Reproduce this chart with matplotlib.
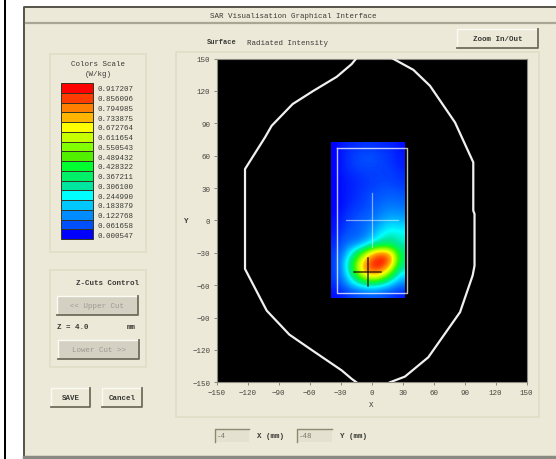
import numpy as np
import matplotlib
matplotlib.use("Agg")
import matplotlib.pyplot as plt
from matplotlib.colors import LinearSegmentedColormap
from matplotlib.patches import Rectangle

scale_values = ["0.917207", "0.856096", "0.794985", "0.733875", "0.672764", "0.611654",
                "0.550543", "0.489432", "0.428322", "0.367211", "0.306100", "0.244990",
                "0.183879", "0.122768", "0.061658", "0.000547"]
scale_colors = ["#ff0000", "#ff3c00", "#ff8000", "#ffb400", "#ffff00", "#c8ff00",
                "#82ff00", "#50f000", "#00ff30", "#00f068", "#00e6a0", "#00ffff",
                "#00c8ff", "#008cff", "#0050ff", "#0000ff"]
ticks = [-150, -120, -90, -60, -30, 0, 30, 60, 90, 120, 150]

field_x = [-38, -28, -18, -8, 2, 12, 22, 32]
field_y = [72, 64, 56, 48, 40, 32, 24, 16, 8, 0, -8, -16, -24, -32, -40, -48, -56, -64, -72]
field = [
    [.00, .03, .03, .04, .04, .03, .03, .01],
    [.00, .03, .05, .06, .06, .05, .04, .02],
    [.00, .03, .05, .06, .06, .05, .04, .02],
    [.00, .03, .04, .05, .05, .05, .05, .03],
    [.00, .02, .03, .04, .05, .05, .05, .04],
    [.00, .02, .03, .04, .05, .06, .06, .05],
    [.00, .02, .03, .05, .06, .07, .08, .07],
    [.00, .02, .04, .05, .07, .09, .10, .09],
    [.00, .03, .05, .06, .08, .11, .13, .12],
    [.01, .04, .06, .08, .10, .14, .17, .16],
    [.01, .05, .07, .09, .13, .19, .24, .22],
    [.02, .07, .08, .10, .16, .26, .30, .27],
    [.03, .09, .12, .18, .30, .36, .36, .28],
    [.04, .13, .30, .52, .72, .82, .72, .36],
    [.04, .18, .45, .72, .88, .92, .82, .36],
    [.04, .18, .48, .76, .86, .85, .62, .28],
    [.04, .14, .34, .58, .66, .58, .36, .18],
    [.03, .09, .17, .24, .27, .22, .15, .09],
    [.01, .03, .05, .06, .07, .06, .04, .02],
]

outline_left_x = [-15, -19.4, -33.9, -56.5, -76.5, -96.8, -103.2, -122.6, -122.6, -101.6, -79.7, -59.7, -29, -19.4, -14.8]
outline_left_y = [150, 144.8, 133, 120, 107.8, 87.7, 77, 47.6, -45, -83.6, -105.8, -119, -139, -146.8, -150]
outline_right_x = [20.3, 40.3, 56.4, 80.6, 98.3, 98.3, 99.5, 99.5, 97.7, 85.5, 54.8, 32.2, 17.7]
outline_right_y = [150, 139.5, 124.7, 90.8, 53.8, 9, 6, -42, -51, -85, -126.8, -144.7, -150]
phantom_x = [-34, 34.5, 34.5, -34, -34]
phantom_y = [67, 67, -67, -67, 67]
peak_x, peak_y = -4, -48

W, H = 556, 460
BG = "#ece9d8"
FONT = "Liberation Mono"
TXT = "#3a3a36"
fig = plt.figure(figsize=(W / 100, H / 100), dpi=100, facecolor="white")
ui = fig.add_axes([0, 0, 1, 1], zorder=0)
ui.set_xlim(0, W)
ui.set_ylim(H, 0)
ui.axis("off")


def box(x0, y0, x1, y1, fc="none", ec="none", lw=0, z=1):
    ui.add_patch(Rectangle((x0, y0), x1 - x0, y1 - y0, fc=fc, ec=ec, lw=lw, zorder=z))


def text(x, y, s, ha="left", size=5.4, weight="normal", color=TXT):
    ui.text(x, y, s, ha=ha, va="center", fontsize=size, family=FONT, weight=weight, color=color, zorder=6)


def button(x0, y0, x1, y1, label, disabled=False):
    fc = "#d4d1c3" if disabled else BG
    box(x0, y0, x1, y1, fc=fc, z=3)
    ui.plot([x0, x0, x1], [y1, y0, y0], color="#fbfaf3", lw=1, zorder=4)
    ui.plot([x0, x1, x1], [y1, y1, y0], color="#6f6c5c", lw=1.3, zorder=4)
    text((x0 + x1) / 2, (y0 + y1) / 2, label, ha="center",
         color="#9b9a90" if disabled else TXT, weight="normal" if disabled else "bold")


def panel(x0, y0, x1, y1):
    box(x0, y0, x1, y1, fc=BG, ec="#e0ddc4", lw=1.1, z=2)


# window chrome
box(4, 0, 6, H, fc="black", z=1)
box(23, 8, W + 2, 458, fc=BG, z=1)
ui.plot([24, 24, W], [458, 8, 8], color="#55534a", lw=1.4, zorder=2)
ui.plot([24, W], [457.5, 457.5], color="#8b8a82", lw=2.5, zorder=2)
ui.plot([26, W], [23.5, 23.5], color="#a9a793", lw=1.6, zorder=2)
text(210, 16.5, "SAR Visualisation Graphical Interface")
text(207, 43, "Surface", weight="bold", size=5.0)
text(247, 43.5, "Radiated Intensity")
button(457, 30, 538, 49, "Zoom In/Out")

# colour scale
panel(50, 55, 146, 253)
text(98, 64, "Colors Scale", ha="center")
text(98, 75, "(W/kg)", ha="center")
top, step = 84.0, 9.75
for i, (lab, col) in enumerate(zip(scale_values, scale_colors)):
    y0 = top + i * step
    box(61, y0, 93, y0 + step, fc=col, ec="#333322", lw=0.7, z=3)
    text(97, y0 + step / 2 + 1, lab)

# z-cut control
panel(50, 271, 146, 368)
text(139, 284, "Z-Cuts Control", ha="right", weight="bold")
button(57, 297, 138, 316, "<< Upper Cut", disabled=True)
text(57, 328, "Z = 4.0", weight="bold")
text(127, 328, "mm", weight="bold")
button(58, 341, 139, 360, "Lower Cut >>", disabled=True)
button(51, 389, 90, 408, "SAVE")
button(102, 389, 142, 408, "Cancel")

# plot panel
panel(176, 53, 539, 418)
text(186, 222, "Y", ha="center", weight="bold")
text(371, 406, "X", ha="center")

# readouts
for x0, x1, val in [(215, 249, "-4"), (297, 332, "-48")]:
    box(x0, 430, x1, 443, fc="#e4e1d0", z=3)
    ui.plot([x0, x0, x1], [443, 430, 430], color="#8c8a70", lw=1, zorder=4)
    text(x0 + 2, 437, val, color="#77766a")
text(257, 436.5, "X (mm)", weight="bold")
text(340, 436.5, "Y (mm)", weight="bold")

# main axes
ax = fig.add_axes([216.7 / W, 1 - 383.3 / H, 310 / W, 323.8 / H], zorder=5, facecolor="black")
cmap = LinearSegmentedColormap.from_list("sar", list(reversed(scale_colors)))
ax.imshow(np.array(field), cmap=cmap, vmin=0, vmax=0.917, interpolation="bicubic", aspect="auto",
          origin="upper", extent=[min(field_x) - 1, max(field_x), min(field_y), max(field_y)], zorder=1)
ax.plot(outline_left_x, outline_left_y, color="#f0f0f0", lw=1.6, zorder=3)
ax.plot(outline_right_x, outline_right_y, color="#f0f0f0", lw=1.6, zorder=3)
ax.plot(phantom_x, phantom_y, color="#ffffff", lw=1.0, alpha=0.75, zorder=3)
ax.plot([-25, 25], [0, 0], color="#ffffff", lw=0.9, alpha=0.5, zorder=3)
ax.plot([0, 0], [-25, 25], color="#ffffff", lw=0.9, alpha=0.5, zorder=3)
ax.plot([peak_x - 13, peak_x + 13], [peak_y, peak_y], color="#201008", lw=1.1, alpha=0.85, zorder=4)
ax.plot([peak_x, peak_x], [peak_y - 13, peak_y + 13], color="#201008", lw=1.1, alpha=0.85, zorder=4)
ax.set_xlim(-150, 150)
ax.set_ylim(-150, 150)
ax.set_xticks(ticks)
ax.set_yticks(ticks)
ax.tick_params(length=2.5, width=0.6, color="#777770", labelsize=5.4, labelcolor="#45453e", pad=2)
for lab in ax.get_xticklabels() + ax.get_yticklabels():
    lab.set_family(FONT)
for s in ax.spines.values():
    s.set_color("#8a8a80")
    s.set_linewidth(0.8)

fig.savefig("out.png", dpi=100)
